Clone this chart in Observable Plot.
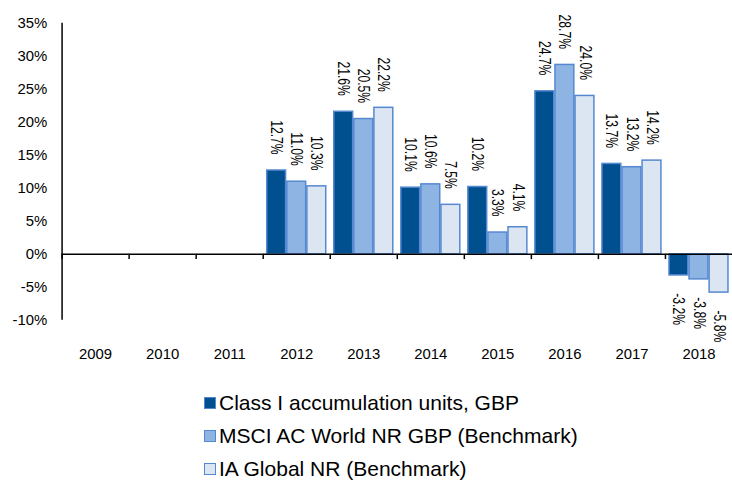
<!DOCTYPE html>
<html>
<head>
<meta charset="utf-8">
<script src="https://cdn.jsdelivr.net/npm/d3@7"></script>
<script src="https://cdn.jsdelivr.net/npm/@observablehq/plot@0.6"></script>
<style>
  html, body { margin: 0; padding: 0; background: #fff; overflow: hidden; }
  body { font-family: "Liberation Sans", Arial, sans-serif; color: #000; }
  #chart svg { display: block; }
  #legend { margin-top: 19px; padding-left: 204px; }
  .row { display: flex; align-items: center; height: 33px; font-size: 21px; white-space: nowrap; }
  .sw { width: 12px; height: 12px; box-sizing: border-box; border: 1.5px solid #5588D0; margin-right: 3px; flex: none; }
</style>
</head>
<body>
<div id="chart"></div>
<div id="legend"></div>
<script>
// ---- data ----
const years = ["2009", "2010", "2011", "2012", "2013", "2014", "2015", "2016", "2017", "2018"];
const seriesNames = ["Class I accumulation units, GBP", "MSCI AC World NR GBP (Benchmark)", "IA Global NR (Benchmark)"];
const classI   = [null, null, null, 12.7, 21.6, 10.1, 10.2, 24.7, 13.7, -3.2];
const msci     = [null, null, null, 11.0, 20.5, 10.6,  3.3, 28.7, 13.2, -3.8];
const iaGlobal = [null, null, null, 10.3, 22.2,  7.5,  4.1, 24.0, 14.2, -5.8];
const seriesColors = ["#00508F", "#8DB4E2", "#DCE6F2"];
const yTicks = [-10, -5, 0, 5, 10, 15, 20, 25, 30, 35];

const valuesBySeries = [classI, msci, iaGlobal];
const rows = [];
years.forEach((yr, i) => valuesBySeries.forEach((vals, s) => {
  if (vals[i] != null) rows.push({year: yr, series: seriesNames[s], value: vals[i]});
}));

// ---- layout ----
const W = 737, H = 370, mL = 62, mR = 0, mT = 23, mB = 48;
const pi = 0.06, po = 0.2;
const facetW = (W - mL - mR) / years.length;
const step = facetW / (seriesNames.length - pi + 2 * po);
const edgeOffset = po * step + step * (1 - pi) / 2; // from first bar centre back to the facet edge
const axisColor = "#000";
const barStroke = "#5588D0";

const plot = Plot.plot({
  width: W, height: H,
  marginLeft: mL, marginRight: mR, marginTop: mT, marginBottom: mB,
  style: {fontFamily: "'Liberation Sans', Arial, sans-serif", fontSize: "15px", color: "#000", background: "#fff", overflow: "visible"},
  fx: {domain: years, paddingInner: 0, paddingOuter: 0, round: false, label: null, axis: "bottom", tickSize: 0, tickPadding: 28},
  x: {domain: seriesNames, paddingInner: pi, paddingOuter: po, round: false, axis: null},
  y: {domain: [-10, 35], ticks: yTicks, tickFormat: d => d + "%", tickSize: 0, tickPadding: 15, label: null},
  color: {domain: seriesNames, range: seriesColors},
  marks: [
    Plot.barY(rows, {fx: "year", x: "series", y: "value", fill: "series", stroke: barStroke, strokeWidth: 1.5}),
    Plot.ruleY([0], {stroke: axisColor, strokeWidth: 1.5}),
    Plot.ruleX(years.map(y => ({year: y})), {fx: "year", x: () => seriesNames[0], y1: 0, y2: -0.8, dx: -edgeOffset, stroke: axisColor, strokeWidth: 1.5}),
    Plot.ruleX([{year: years[0]}], {fx: "year", x: () => seriesNames[0], y1: -10, y2: 35, dx: -edgeOffset, stroke: axisColor, strokeWidth: 1.5}),
    Plot.text(rows.filter(d => d.value >= 0), {fx: "year", x: "series", y: "value", text: d => d.value.toFixed(1) + "%", rotate: 90, textAnchor: "end", lineAnchor: "middle", dy: -16, fontSize: 17, fill: "#000"}),
    Plot.text(rows.filter(d => d.value < 0), {fx: "year", x: "series", y: "value", text: d => d.value.toFixed(1) + "%", rotate: 90, textAnchor: "start", lineAnchor: "middle", dy: 18, fontSize: 17, fill: "#000"})
  ]
});

// condense the rotated value labels along their reading direction
d3.select(plot).selectAll("text")
  .filter(function () { return /rotate/.test(this.getAttribute("transform") || ""); })
  .attr("transform", function () { return this.getAttribute("transform") + " scale(0.72,1)"; });

document.getElementById("chart").appendChild(plot);

// ---- legend ----
const legend = d3.select("#legend");
seriesNames.forEach((name, i) => {
  const row = legend.append("div").attr("class", "row");
  row.append("span").attr("class", "sw").style("background", seriesColors[i]);
  row.append("span").text(name);
});
</script>
</body>
</html>
